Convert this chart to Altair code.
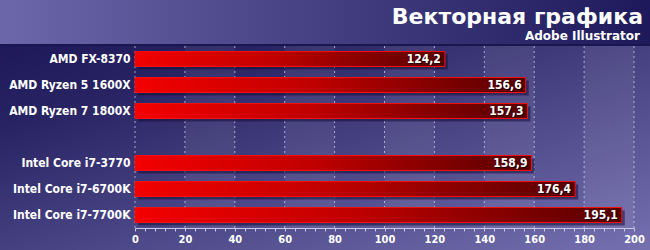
import altair as alt
import pandas as pd

# ---- data ----
cpus = ["AMD FX-8370", "AMD Ryzen 5 1600X", "AMD Ryzen 7 1800X",
        "Intel Core i7-3770", "Intel Core i7-6700K", "Intel Core i7-7700K"]
scores = [124.2, 156.6, 157.3, 158.9, 176.4, 195.1]
row_order = ["AMD FX-8370", "AMD Ryzen 5 1600X", "AMD Ryzen 7 1800X", " ",
             "Intel Core i7-3770", "Intel Core i7-6700K", "Intel Core i7-7700K"]
grid_values = [0, 20, 40, 60, 80, 100, 120, 140, 160, 180, 200]
tick_values = list(range(0, 201, 4))
title_text = "Векторная графика"
subtitle_text = "Adobe Illustrator"

W, H = 499, 182
PL, PT, PR, PB = 135, 46, 16, 22
FONT = "DejaVu Sans Condensed, DejaVu Sans"

df = pd.DataFrame({"cpu": cpus, "v": scores,
                   "lbl": [f"{s:.1f}".replace(".", ",") for s in scores]})
bands = pd.DataFrame({"v": grid_values[1:-1:2], "b": grid_values[2::2]})
grid = pd.DataFrame({"v": grid_values})
dummy = pd.DataFrame({"t": [title_text], "s": [subtitle_text]})

xscale = alt.Scale(domain=[0, 200], nice=False, zero=True)
yscale = alt.Scale(domain=row_order, paddingInner=0.42, paddingOuter=0.21)

x_axis = alt.Axis(
    title=None, values=tick_values, zindex=2, labelOverlap=False,
    labelExpr="datum.value % 20 == 0 ? datum.label : ''",
    grid=False, domainColor="#c8c8e4", domainWidth=1, tickColor="#c8c8e4", tickSize=3,
    labelColor="white", labelFont=FONT, labelFontWeight="bold", labelFontSize=11,
    labelPadding=2, labelFlush=False)
y_axis = alt.Axis(
    title=None, domain=False, ticks=False, zindex=2, labelColor="white", labelFont=FONT,
    labelFontWeight="bold", labelFontSize=12, labelPadding=5)

X = alt.X("v:Q", scale=xscale, axis=x_axis)
Y = alt.Y("cpu:N", scale=yscale, sort=row_order, axis=y_axis)

body = alt.Chart(dummy).mark_rect(
    fill=alt.LinearGradient(gradient="linear", x1=0, x2=1, y1=0, y2=1, stops=[
        alt.GradientStop(offset=0, color="#1f195a"),
        alt.GradientStop(offset=0.2, color="#282362"),
        alt.GradientStop(offset=1, color="#7570b0")])
).encode(x=alt.value(-PL), x2=alt.value(W + PR), y=alt.value(0), y2=alt.value(H + PB))

header = alt.Chart(dummy).mark_rect(
    fill=alt.LinearGradient(gradient="linear", x1=0, x2=1, y1=0, y2=0, stops=[
        alt.GradientStop(offset=0, color="#6c66aa"),
        alt.GradientStop(offset=1, color="#1d195a")])
).encode(x=alt.value(-PL), x2=alt.value(W + PR), y=alt.value(-PT), y2=alt.value(-2))

hline = alt.Chart(dummy).mark_rect(fill="#1a1650").encode(
    x=alt.value(-PL), x2=alt.value(W + PR), y=alt.value(-2), y2=alt.value(0))

band_layer = alt.Chart(bands).mark_rect(fill="white", opacity=0.07).encode(
    x=X, x2="b:Q", y=alt.value(0), y2=alt.value(H))

grid_layer = alt.Chart(grid).mark_rule(color="#d8d8f4", opacity=0.7, strokeDash=[2, 3],
                                       strokeWidth=1).encode(
    x=X, y=alt.value(0), y2=alt.value(H))

shadow = alt.Chart(df).mark_bar(size=15, xOffset=3, yOffset=3, color="#150f3e",
                                opacity=0.55).encode(x=X, y=Y)

bars = alt.Chart(df).mark_bar(
    size=15, stroke="#f01010", strokeWidth=1,
    fill=alt.LinearGradient(gradient="linear", x1=0, x2=1, y1=0, y2=0, stops=[
        alt.GradientStop(offset=0, color="#f40000"),
        alt.GradientStop(offset=0.45, color="#c00000"),
        alt.GradientStop(offset=1, color="#560000")])
).encode(x=X, y=Y)

txt_shadow = alt.Chart(df).mark_text(align="right", baseline="middle", dx=-3, dy=1,
                                     font=FONT, fontWeight="bold", fontSize=12,
                                     color="#1a0000").encode(x=X, y=Y, text="lbl:N")
txt = alt.Chart(df).mark_text(align="right", baseline="middle", dx=-4,
                              font=FONT, fontWeight="bold", fontSize=12,
                              color="white").encode(x=X, y=Y, text="lbl:N")

title = alt.Chart(dummy).mark_text(align="right", baseline="alphabetic", font="DejaVu Sans",
                                   fontWeight="bold", fontSize=22, color="white").encode(
    x=alt.value(W + 9), y=alt.value(-22), text="t:N")
subtitle = alt.Chart(dummy).mark_text(align="right", baseline="alphabetic", font="DejaVu Sans",
                                      fontWeight="bold", fontSize=12, color="white").encode(
    x=alt.value(W + 6), y=alt.value(-6), text="s:N")

chart = alt.layer(body, header, hline, band_layer, grid_layer, shadow, bars,
                  txt_shadow, txt, title, subtitle).properties(
    width=W, height=H, background="#221c5a",
    padding={"left": PL, "top": PT, "right": PR, "bottom": PB},
    autosize=alt.AutoSizeParams(type="none"),
).configure_view(stroke=None)

chart.save("out.html", embed_options={"renderer": "svg", "actions": False})
